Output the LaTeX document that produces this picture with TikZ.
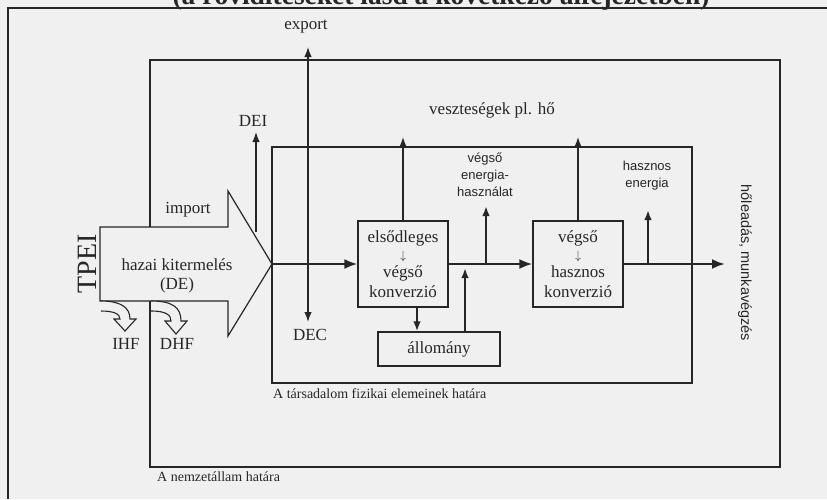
\documentclass[tikz,border=0pt]{standalone}
\usepackage{fontspec}
\setmainfont{Liberation Serif}
\newfontfamily\labsans{Liberation Sans}
\usetikzlibrary{arrows.meta}
\tikzset{>={Latex[length=10pt,width=7.5pt]}}
\colorlet{ink}{black!85}
\tikzset{
  lbl/.style={font=\fontsize{17}{19.5}\selectfont, inner sep=0pt, align=center, text=ink},
  smalllbl/.style={font=\labsans\fontsize{13}{17}\selectfont, inner sep=0pt, align=center, text=ink},
  hatar/.style={font=\fontsize{14}{16}\selectfont, inner sep=0pt, anchor=west, text=ink},
  box/.style={draw=ink, line width=1.2pt, align=center, inner sep=0pt,
    font=\fontsize{17}{19.5}\selectfont, text=ink},
  border/.style={draw=ink, line width=1.2pt},
  flow/.style={-{Latex[length=13pt,width=10pt]}, draw=ink, line width=2.4pt},
  arr/.style={->, draw=ink, line width=1.4pt},
  hollow/.style={draw=ink, line width=1.1pt, fill=black!6},
}
\begin{document}
\begin{tikzpicture}[x=1pt, y=-1pt]
\fill[black!6] (0,0) rectangle (827,499);
\useasboundingbox (0,0) rectangle (827,499);

% title, cut off by the page
\node[font=\bfseries\fontsize{27.5}{30}\selectfont, anchor=base, text=ink] (cim) at (441,4) {(a rövidítéseket lásd a következő alfejezetben)};

% frames
\draw[border] (8,499) -- (8,8) -- (827,8);
\draw[border] (150,227) -- (150,60) -- (780,60) -- (780,467) -- (150,467) -- (150,301);
\draw[border] (272,147) rectangle (692,383);

% big input arrow
\draw[border] (100,227) -- (228,227) -- (228,191) -- (272,264) -- (228,336) -- (228,301) -- (100,301) -- cycle;
\coordinate (tip) at (272,264);

% hollow arrows IHF, DHF
\draw[hollow] (101,301) .. controls (120,301) and (130,307) .. (130,319) -- (136,319) -- (125,331) -- (114,319) -- (120,319) .. controls (120,314) and (114,311) .. (101,311);
\draw[hollow] (151,301) .. controls (172,301) and (181,307) .. (181,321) -- (187,321) -- (176,334) -- (165,321) -- (171,321) .. controls (171,315) and (166,311) .. (151,311);

\node[lbl] (ihf) at (126,344) {IHF};
\node[lbl] (dhf) at (177,344) {DHF};
\node[lbl] (import) at (188,210) {import};
\node[lbl] (hazai) at (177,276) {hazai kitermelés\\(DE)};
\node[lbl, font=\fontsize{28}{30}\selectfont, rotate=90] (tpei) at (87,264) {TPEI};

% boxes
\node[box, minimum width=90pt, minimum height=86pt] (elso) at (403,264) {elsődleges\\[-3pt]{\fontsize{12}{12}\selectfont$\downarrow$}\\[-1pt]végső\\konverzió};
\node[box, minimum width=90pt, minimum height=86pt] (vegso) at (578,264) {végső\\[-3pt]{\fontsize{12}{12}\selectfont$\downarrow$}\\[-1pt]hasznos\\konverzió};
\node[box, minimum width=122pt, minimum height=34pt] (allomany) at (439,349) {állomány};

% main flow
\coordinate (out) at (725,264);
\draw[flow] (tip) -- (elso);
\draw[flow] (elso) -- (vegso);
\draw[flow] (vegso) -- (out);

% export / DEC, DEI
\coordinate (expTop) at (308,47);
\coordinate (decBot) at (308,322);
\draw[arr, <->] (decBot) -- (expTop);
\node[lbl] (export) at (306,27) {export};
\node[lbl] (dec) at (310,335) {DEC};
\coordinate (deiBot) at (256,232);
\coordinate (deiTop) at (256,132);
\draw[arr] (deiBot) -- (deiTop);
\node[lbl] (dei) at (253,121) {DEI};

% losses
\coordinate (loss1) at (403,137);
\coordinate (loss2) at (578,137);
\draw[arr] (elso) -- (loss1);
\draw[arr] (vegso) -- (loss2);
\node[lbl] (vesz) at (492,110) {veszteségek pl. hő};

% final and useful energy
\coordinate (fe) at (486,264);
\coordinate (feTop) at (486,206);
\coordinate (he) at (648,264);
\coordinate (heTop) at (648,210);
\draw[arr, line width=2pt] (fe) -- (feTop);
\draw[arr, line width=2pt] (he) -- (heTop);
\node[smalllbl] (vegsoHaszn) at (485,175) {végső\\energia-\\használat};
\node[smalllbl] (haszEn) at (647,176) {hasznos\\energia};

% stock
\coordinate (s1) at (417,307);
\coordinate (s2) at (465,268);
\draw[arr, line width=2pt] (s1) -- (s1 |- allomany.north);
\draw[arr, line width=2pt] (allomany.north -| s2) -- (s2);

\node[smalllbl, font=\labsans\fontsize{14.5}{16}\selectfont, rotate=-90] (holead) at (745,263) {hőleadás, munkavégzés};
\node[hatar] (tars) at (273,394) {A társadalom fizikai elemeinek határa};
\node[hatar] (nemzet) at (157,477) {A nemzetállam határa};
\end{tikzpicture}
\end{document}
